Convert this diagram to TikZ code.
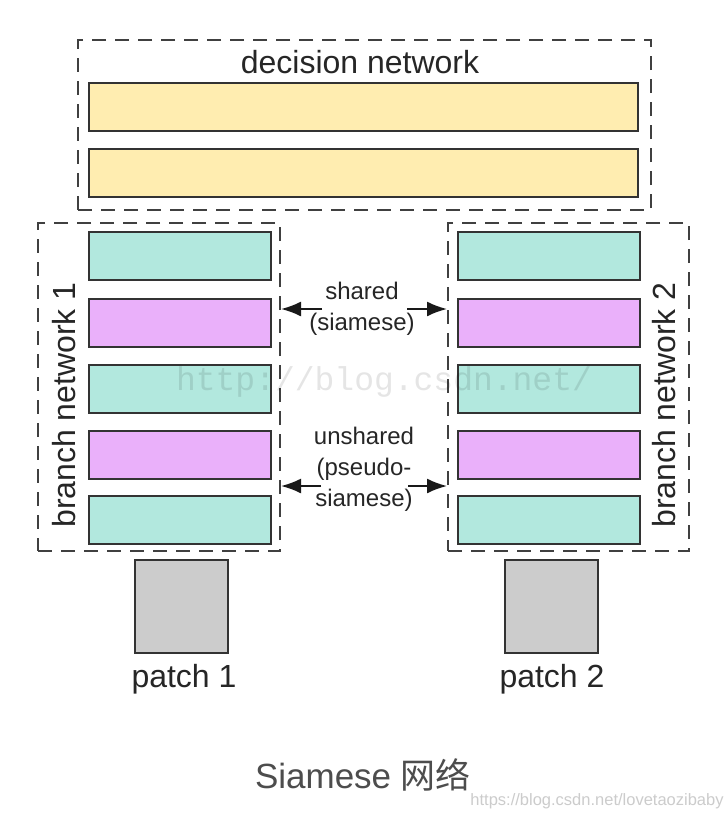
\documentclass[tikz,border=0pt]{standalone}
\usepackage{fontspec}
\setmainfont{Liberation Sans}
\newfontfamily\cjk{Noto Sans CJK SC}
\newfontfamily\wmfont{Liberation Mono}
\usetikzlibrary{arrows.meta}
\definecolor{fcyellow}{RGB}{255,237,176}
\definecolor{convteal}{RGB}{178,232,222}
\definecolor{poolpink}{RGB}{234,176,250}
\definecolor{patchgray}{RGB}{204,204,204}
\definecolor{edgegray}{RGB}{51,51,51}
\definecolor{dashgray}{RGB}{64,64,64}
\definecolor{txtgray}{RGB}{77,77,77}
\tikzset{
	layer/.style      = {shape=rectangle, draw=edgegray, line width=2pt,
		inner sep=0pt, minimum height=48pt},
	fclayer/.style    = {layer, fill=fcyellow, minimum width=549pt},
	convlayer/.style  = {layer, fill=convteal, minimum width=182pt},
	poollayer/.style  = {convlayer, fill=poolpink},
	patch/.style      = {layer, fill=patchgray, minimum width=93pt, minimum height=93pt},
	netbox/.style     = {shape=rectangle, draw=dashgray, line width=2pt,
		dash pattern=on 14pt off 9pt, inner sep=0pt},
	biglabel/.style   = {font=\fontsize{32}{36}\selectfont, text=black!85},
	smalllabel/.style = {font=\fontsize{24}{31}\selectfont, align=center,
		text=black!85, inner sep=0pt},
	share/.style      = {-{Latex[length=20pt,width=15pt]}, line width=2pt, draw=black!90}
}

\begin{document}
\begin{tikzpicture}[x=1pt, y=-1pt]
	\useasboundingbox (0,0) rectangle (728,820);
	\fill [white] (0,0) rectangle (728,820);
	% decision network
	\node [netbox, minimum width=573pt, minimum height=170pt] at (364.5,125) (decision) {};
	\node [biglabel] at (360,62) (decisionlbl) {decision network};
	\node [fclayer] at (363.5,107) (fc1) {};
	\node [fclayer] at (363.5,173) (fc2) {};
	% branch network 1
	\node [netbox, minimum width=242pt, minimum height=328pt] at (159,387) (branchL) {};
	\node [convlayer] at (180,256) (convL1) {};
	\node [poollayer] at (180,323) (poolL1) {};
	\node [convlayer] at (180,389) (convL2) {};
	\node [poollayer] at (180,455) (poolL2) {};
	\node [convlayer] at (180,520) (convL3) {};
	\node [biglabel, rotate=90] at (64,405) (branchLlbl) {branch network 1};
	% branch network 2
	\node [netbox, minimum width=241pt, minimum height=328pt] at (568.5,387) (branchR) {};
	\node [convlayer] at (548.5,256) (convR1) {};
	\node [poollayer] at (548.5,323) (poolR1) {};
	\node [convlayer] at (548.5,389) (convR2) {};
	\node [poollayer] at (548.5,455) (poolR2) {};
	\node [convlayer] at (548.5,520) (convR3) {};
	\node [biglabel, rotate=90] at (664,405) (branchRlbl) {branch network 2};
	% input patches
	\node [patch] at (181,606) (patchL) {};
	\node [patch] at (551,606) (patchR) {};
	\node [biglabel] at (184,679) (patchLlbl) {patch 1};
	\node [biglabel] at (552,679) (patchRlbl) {patch 2};
	% weight sharing
	\node [smalllabel] at (362,309) (shared) {shared\\(siamese)};
	\node [smalllabel] at (364,469) (unshared) {unshared\\(pseudo-\\siamese)};
	\coordinate (sharedL) at (322,309);
	\coordinate (sharedR) at (407,309);
	\coordinate (unsharedL) at (321,486);
	\coordinate (unsharedR) at (408,486);
	\draw [share] (sharedL) -- (sharedL -| branchL.east);
	\draw [share] (sharedR) -- (sharedR -| branchR.west);
	\draw [share] (unsharedL) -- (unsharedL -| branchL.east);
	\draw [share] (unsharedR) -- (unsharedR -| branchR.west);
	% caption and marks
	\node [font=\fontsize{35}{40}\selectfont, text=txtgray] at (363,775) (caption) {Siamese {\cjk 网络}};
	\node [font=\wmfont\fontsize{33}{36}\selectfont, text=black, opacity=0.1] at (384,382) (wm) {http://blog.csdn.net/};
	\node [font=\fontsize{16.5}{18}\selectfont, text=black!20] at (597,801) (wmurl) {https://blog.csdn.net/lovetaozibaby};
\end{tikzpicture}
\end{document}
